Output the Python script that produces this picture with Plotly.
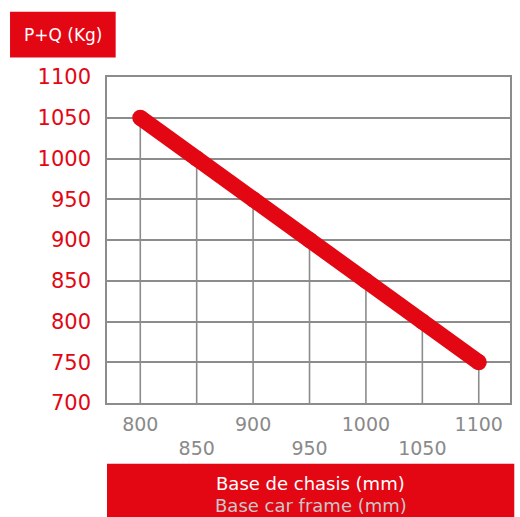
import plotly.graph_objects as go

# Data
base_mm = [800, 850, 900, 950, 1000, 1050, 1100]
load_kg = [1050, 1000, 950, 900, 850, 800, 750]
y_ticks = [700, 750, 800, 850, 900, 950, 1000, 1050, 1100]
x_ticks = [800, 850, 900, 950, 1000, 1050, 1100]
x_ticktext = ["800", "<br>850", "900", "<br>950", "1000", "<br>1050", "1100"]
y_label = "P+Q (Kg)"
x_label_1 = "Base de chasis (mm)"
x_label_2 = "Base car frame (mm)"

RED = "#E30613"
GRID = "#8c8c8c"
FONT = "DejaVu Sans"

W, H = 520, 517
L, R, T, B = 107.3, 511.7, 77.3, 403.3
PW, PH = R - L, B - T


def px(x):
    return (x - L) / PW


def py(y):
    return (B - y) / PH


ymin = y_ticks[0]

# Vertical grid segments: from the bottom up to the curve
vx, vy = [], []
for xv, yv in zip(base_mm, load_kg):
    vx += [xv, xv, None]
    vy += [ymin, yv, None]

fig = go.Figure()
fig.add_trace(go.Scatter(x=vx, y=vy, mode="lines",
                         line=dict(color=GRID, width=1.6),
                         hoverinfo="skip", showlegend=False))
fig.add_trace(go.Scatter(x=base_mm, y=load_kg, mode="lines+markers",
                         line=dict(color=RED, width=16),
                         marker=dict(color=RED, size=16),
                         showlegend=False))

fig.update_layout(
    width=W, height=H,
    margin=dict(l=L, r=W - R, t=T, b=H - B),
    paper_bgcolor="white", plot_bgcolor="white",
    font=dict(family=FONT),
    xaxis=dict(range=[770.5, 1127.7], tickvals=x_ticks, ticktext=x_ticktext,
               showgrid=False, zeroline=False,
               showline=True, linecolor=GRID, linewidth=1.6, mirror=True,
               ticks="", ticklabelstandoff=3,
               tickfont=dict(family=FONT, size=19, color="#8a8a8a")),
    yaxis=dict(range=[700, 1100], tickvals=y_ticks,
               showgrid=True, gridcolor=GRID, gridwidth=1.6, zeroline=False,
               showline=True, linecolor=GRID, linewidth=1.6, mirror=True,
               ticks="", ticklabelstandoff=10,
               tickfont=dict(family=FONT, size=21, color=RED)),
    shapes=[
        dict(type="rect", xref="paper", yref="paper", layer="above",
             x0=px(10), x1=px(116), y0=py(57.7), y1=py(12),
             fillcolor=RED, line=dict(width=0)),
        dict(type="rect", xref="paper", yref="paper", layer="above",
             x0=px(107.3), x1=px(516), y0=py(520), y1=py(464),
             fillcolor=RED, line=dict(width=0)),
    ],
    annotations=[
        dict(xref="paper", yref="paper", x=px(63), y=py(35), text=y_label,
             showarrow=False, xanchor="center", yanchor="middle",
             font=dict(family=FONT, size=17, color="white")),
        dict(xref="paper", yref="paper", x=px(312), y=py(484), text=x_label_1,
             showarrow=False, xanchor="center", yanchor="middle",
             font=dict(family=FONT, size=18, color="white")),
        dict(xref="paper", yref="paper", x=px(312), y=py(506), text=x_label_2,
             showarrow=False, xanchor="center", yanchor="middle",
             font=dict(family=FONT, size=18, color="#c9c9c9")),
    ],
)

fig.write_html("out.html", config={"displayModeBar": False},
               post_script="document.body.style.margin='0';document.body.style.overflow='hidden';")
